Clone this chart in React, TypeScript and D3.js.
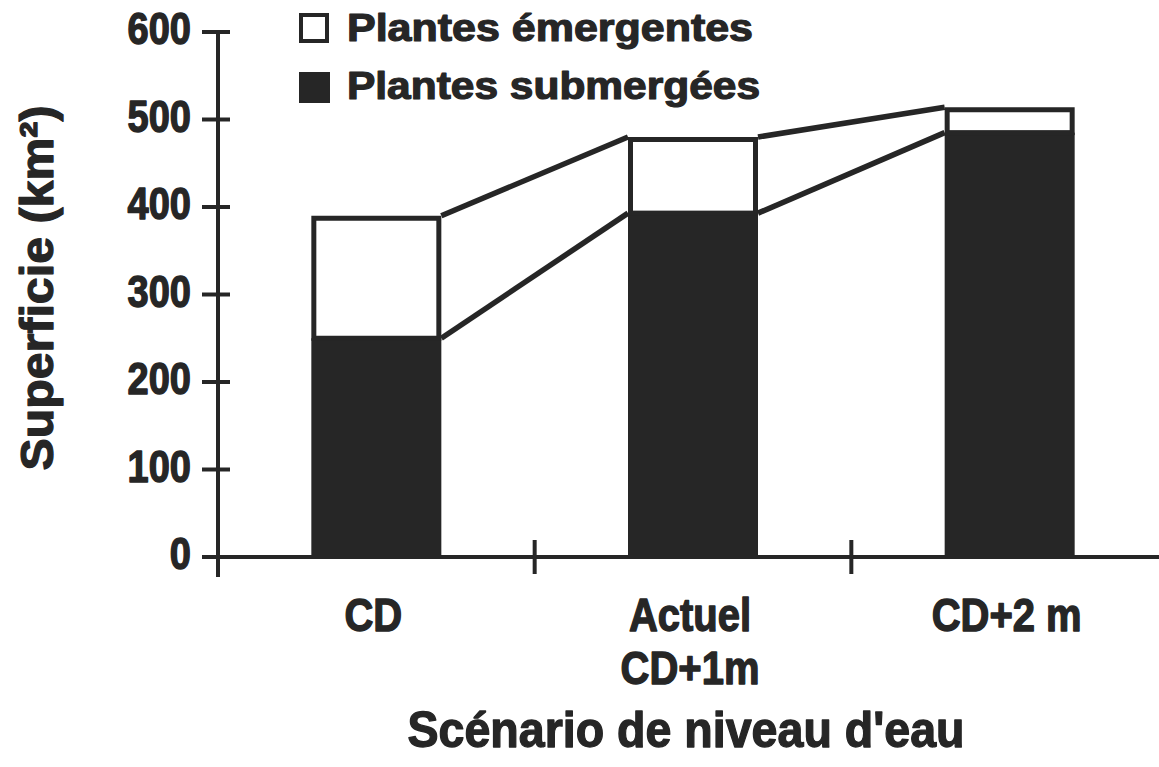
import React from "react";
import * as d3 from "d3";

const categories = ["CD", "Actuel|CD+1m", "CD+2 m"];
const submergees = [250, 393, 485];
const emergentes = [140, 87, 29];
const yTicks = [0, 100, 200, 300, 400, 500, 600];
const legendLabels = ["Plantes émergentes", "Plantes submergées"];
const yTitle = "Superficie (km²)";
const xTitle = "Scénario de niveau d'eau";

const W = 1159;
const H = 767;
const INK = "#262626";
const FONT = "'Liberation Sans', Arial, Helvetica, sans-serif";

export default function App() {
  const y = d3.scaleLinear().domain([0, 600]).range([557, 32]);
  const x = d3.scaleBand<string>().domain(categories).range([218, 1168]).padding(0);
  const barW = 130;
  const axisX = 218;
  const y0 = y(0);

  const bars = categories.map((c, i) => {
    const cx = (x(c) as number) + x.bandwidth() / 2;
    const sub = submergees[i];
    const tot = submergees[i] + emergentes[i];
    return { c, x0: cx - barW / 2, x1: cx + barW / 2, cx, sub, tot };
  });

  const topSegs: [number, number, number, number][] = [];
  const subSegs: [number, number, number, number][] = [];
  for (let i = 0; i < bars.length - 1; i++) {
    const a = bars[i];
    const b = bars[i + 1];
    topSegs.push([a.x1, y(a.tot), b.x0, y(b.tot)]);
    subSegs.push([a.x1, y(a.sub), b.x0, y(b.sub)]);
  }
  const line = d3.line<[number, number]>();
  const heavy = { stroke: INK, strokeWidth: 1.2, strokeLinejoin: "round" as const };

  return (
    <svg width={W} height={H} style={{ display: "block", position: "absolute", left: 0, top: 0, background: "#fff" }}
      fontFamily={FONT} fontWeight="bold">
      <rect x={0} y={0} width={W} height={H} fill="#fff" />
      {/* bars */}
      {bars.map((b) => (
        <g key={b.c}>
          <rect x={b.x0} y={y(b.sub)} width={barW} height={y0 - y(b.sub)} fill={INK} />
          <rect x={b.x0 + 2.5} y={y(b.tot) + 2.5} width={barW - 5} height={y(b.sub) - y(b.tot) - 2.5}
            fill="#fff" stroke={INK} strokeWidth={5} />
        </g>
      ))}
      {/* connector lines */}
      {topSegs.map((s, i) => (
        <path key={"t" + i} d={line([[s[0], s[1]], [s[2], s[3]]]) as string} stroke={INK} strokeWidth={5.5} fill="none" />
      ))}
      {subSegs.map((s, i) => (
        <path key={"s" + i} d={line([[s[0], s[1]], [s[2], s[3]]]) as string} stroke={INK} strokeWidth={5.5} fill="none" />
      ))}
      {/* y axis */}
      <line x1={axisX} x2={axisX} y1={y(600)} y2={577} stroke={INK} strokeWidth={4} />
      {yTicks.map((t) => (
        <g key={t}>
          <line x1={202} x2={230} y1={y(t)} y2={y(t)} stroke={INK} strokeWidth={4} />
          <text transform={`translate(191,${y(t) + 12}) scale(1,1.15)`} textAnchor="end" fontSize={38} fill={INK} {...heavy}>
            {t}
          </text>
        </g>
      ))}
      {/* x axis */}
      <line x1={202} x2={W} y1={y0} y2={y0} stroke={INK} strokeWidth={4} />
      {categories.slice(1).map((c) => (
        <line key={c} x1={x(c) as number} x2={x(c) as number} y1={540} y2={574} stroke={INK} strokeWidth={4} />
      ))}
      {/* category labels */}
      {bars.map((b) => {
        const lines = b.c.split("|");
        return lines.map((l, j) => (
          <text key={b.c + j} transform={`translate(${b.cx - 3},${631 + j * 53}) scale(1,1.15)`}
            textAnchor="middle" fontSize={40} fill={INK} {...heavy}>
            {l}
          </text>
        ));
      })}
      {/* x title */}
      <text transform={`translate(686,747) scale(1,1.1)`} textAnchor="middle" fontSize={46} fill={INK}
        textLength={557} lengthAdjust="spacingAndGlyphs" {...heavy}>
        {xTitle}
      </text>
      {/* y title */}
      <text transform={`translate(53,288) rotate(-90)`} textAnchor="middle" fontSize={46} fill={INK}
        textLength={365} lengthAdjust="spacingAndGlyphs" {...heavy}>
        {yTitle}
      </text>
      {/* legend */}
      <rect x={301} y={15} width={26} height={26} fill="#fff" stroke={INK} strokeWidth={4} />
      <text x={347} y={41} fontSize={38} fill={INK} textLength={406} lengthAdjust="spacingAndGlyphs" {...heavy}>
        {legendLabels[0]}
      </text>
      <rect x={299} y={72} width={31} height={31} fill={INK} />
      <text x={347} y={99} fontSize={38} fill={INK} textLength={413} lengthAdjust="spacingAndGlyphs" {...heavy}>
        {legendLabels[1]}
      </text>
    </svg>
  );
}
